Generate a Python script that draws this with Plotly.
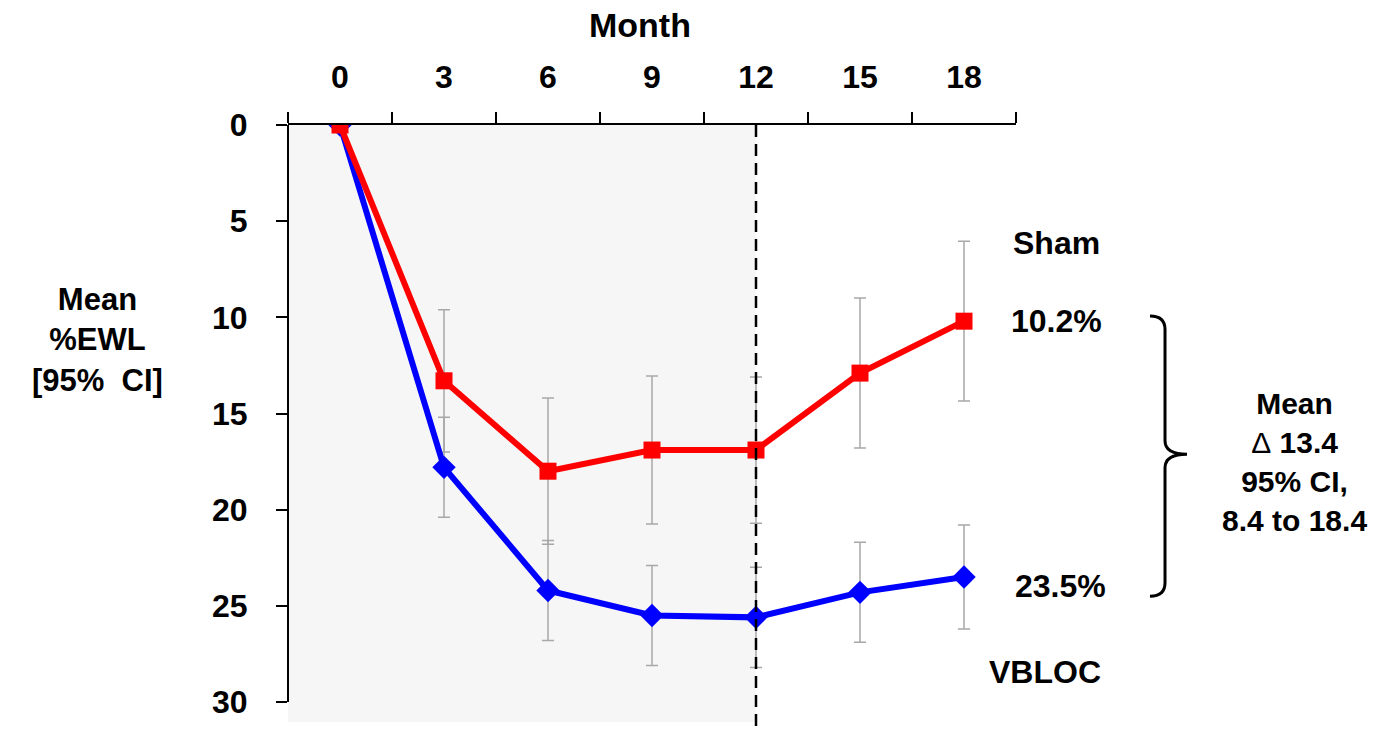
import plotly.graph_objects as go

# Follow-up months
months = [0, 3, 6, 9, 12, 15, 18]

# Mean %EWL and half-width of the 95% CI for each arm
sham_mean = [0, 13.3, 18.0, 16.9, 16.9, 12.9, 10.2]
sham_ci = [0, 3.7, 3.8, 3.85, 3.8, 3.9, 4.15]
vbloc_mean = [0, 17.8, 24.2, 25.5, 25.6, 24.3, 23.5]
vbloc_ci = [0, 2.6, 2.6, 2.6, 2.6, 2.6, 2.7]

month_ticks = [0, 3, 6, 9, 12, 15, 18]
ewl_ticks = [0, 5, 10, 15, 20, 25, 30]
blinded_end = 12

FONT = "Liberation Sans, Arial, sans-serif"
RED = "#ff0000"
BLUE = "#0000ff"
GREY = "#a8a8a8"

x_lo, x_hi = -1.5, 19.5
y_top, y_bot = 0, 31.04

fig = go.Figure()

# CI whiskers, drawn underneath the lines and markers
for mean, ci in ((vbloc_mean, vbloc_ci), (sham_mean, sham_ci)):
    fig.add_trace(go.Scatter(
        x=months, y=mean, mode="markers",
        marker=dict(size=1, opacity=0),
        error_y=dict(type="data", array=ci, visible=True,
                     color=GREY, thickness=1.5, width=6),
        showlegend=False, hoverinfo="skip",
    ))

fig.add_trace(go.Scatter(
    x=months, y=vbloc_mean, mode="lines+markers", name="VBLOC",
    line=dict(color=BLUE, width=6),
    marker=dict(symbol="diamond", size=18, color=BLUE),
    showlegend=False,
))
fig.add_trace(go.Scatter(
    x=months, y=sham_mean, mode="lines+markers", name="Sham",
    line=dict(color=RED, width=6),
    marker=dict(symbol="square", size=17, color=RED),
    showlegend=False,
))

# tick marks sit between the month labels
between = [m - 1.5 for m in month_ticks] + [month_ticks[-1] + 1.5]

shapes = [
    # shaded blinded period
    dict(type="rect", xref="x", yref="paper", x0=x_lo, x1=blinded_end,
         y0=0, y1=1, fillcolor="#f6f6f6", line=dict(width=0), layer="below"),
    # 12-month divider
    dict(type="line", xref="x", yref="paper", x0=blinded_end, x1=blinded_end,
         y0=1, y1=-0.02, line=dict(color="black", width=2.5, dash="12px,7px")),
    # left axis line, ending at the last tick
    dict(type="line", xref="paper", yref="y", x0=0, x1=0,
         y0=ewl_ticks[0], y1=ewl_ticks[-1], line=dict(color="black", width=2)),
]

# curly brace joining the 18-month values
bx0, bx1, bx2 = 1.184, 1.2047, 1.2349
bt = sham_mean[-1] - 0.27
bb = vbloc_mean[-1] + 1.0
bm = (bt + bb) / 2 - 0.1
d = 0.7
brace = (f"M {bx0},{bt} Q {bx1},{bt} {bx1},{bt + d} "
         f"L {bx1},{bm - d} Q {bx1},{bm} {bx2},{bm} "
         f"Q {bx1},{bm} {bx1},{bm + d} "
         f"L {bx1},{bb - d} Q {bx1},{bb} {bx0},{bb}")
shapes.append(dict(type="path", xref="paper", yref="y", path=brace,
                   line=dict(color="black", width=3)))

bold = dict(family=FONT, color="black", weight="bold")


def label(text, x, y, size, yref="paper", **kw):
    return dict(text=text, xref="paper", yref=yref, x=x, y=y,
                xanchor="center", yanchor="middle", showarrow=False,
                align="center", font=dict(size=size, **bold), **kw)


delta = "<span style='font-weight:normal'>\u0394</span>"

annotations = [
    label("Month", 0.4835, 1.1675, 34),
    label("Mean<br>%EWL<br>[95%\u00a0 CI]", -0.261, 0.64, 31),
    label("Sham", 1.0563, 0.802, 32),
    label(f"{sham_mean[-1]:.1f}%", 1.0563, sham_mean[-1], 32, yref="y"),
    label(f"{vbloc_mean[-1]:.1f}%", 1.0618, vbloc_mean[-1], 32, yref="y",
          yshift=-9),
    label("VBLOC", 1.0398, 0.0838, 32),
    label(f"Mean<br>{delta} 13.4<br>95% CI,<br>8.4 to 18.4", 1.383, 0.4355,
          30),
]

fig.update_layout(
    width=1391, height=731,
    margin=dict(l=288, r=375, t=125, b=9, pad=0),
    paper_bgcolor="white", plot_bgcolor="white",
    shapes=shapes, annotations=annotations,
    xaxis=dict(
        side="top", range=[x_lo, x_hi], tickmode="array", tickvals=between,
        showticklabels=False, ticks="outside", ticklen=11, tickwidth=2,
        tickcolor="black", showline=True, linecolor="black", linewidth=2,
        showgrid=False, zeroline=False,
    ),
    xaxis2=dict(
        overlaying="x", side="top", range=[x_lo, x_hi], tickmode="array",
        tickvals=month_ticks, ticktext=[str(m) for m in month_ticks],
        ticks="", showline=False, showgrid=False, zeroline=False,
        ticklabelstandoff=30, tickfont=dict(size=32, **bold),
    ),
    yaxis=dict(
        range=[y_bot, y_top], tickmode="array", tickvals=ewl_ticks,
        ticks="outside", ticklen=11, tickwidth=2, tickcolor="black",
        showline=False, showgrid=False, zeroline=False,
        ticklabelstandoff=22, tickfont=dict(size=32, **bold),
    ),
)

# an invisible trace binds the label axis so it is drawn
fig.add_trace(go.Scatter(x=[month_ticks[0]], y=[0], xaxis="x2", mode="markers",
                         marker=dict(opacity=0), showlegend=False,
                         hoverinfo="skip"))

fig.write_html("out.html")
